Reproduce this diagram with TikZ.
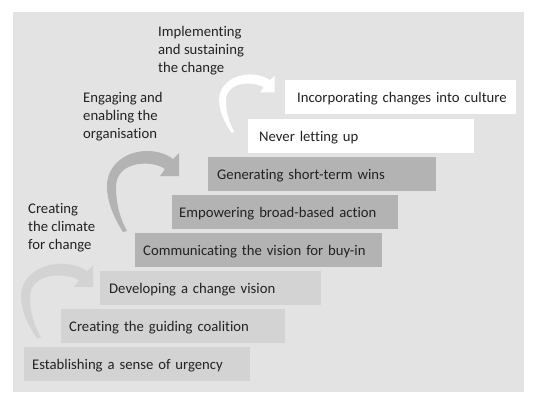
\documentclass[tikz,border=0pt]{standalone}
\usepackage{fontspec}
\setmainfont{Carlito}[Ligatures=NoCommon]
\definecolor{panel}{HTML}{E3E3E3}
\definecolor{lightstep}{HTML}{D3D3D3}
\definecolor{darkstep}{HTML}{B3B3B3}
\definecolor{ink}{HTML}{222222}
\tikzset{stepbox/.style={anchor=north west, minimum height=34pt, inner ysep=0pt, text height=11pt, text depth=0pt, align=left, text=ink},
  phase/.style={anchor=north west, align=left, inner sep=0pt, text=ink}}
\begin{document}
\begin{tikzpicture}[x=1pt, y=-1pt, font={\fontsize{14.7pt}{18pt}\selectfont}, line join=round]
    \useasboundingbox (0,0) rectangle (537,401);
    \fill[panel] (13,12) rectangle (524,392);
    %\draw[gray,dashed] (0,0) grid[step=50] (537,401);
    % curved arrows, one per phase
    \foreach \tx/\ty/\sx/\sy/\c in {91/285/1/.92/lightstep, 177/174/1/1/darkstep, 273/91/.77/.72/white}
    \fill[\c, shift={(\tx,\ty)}, xscale=\sx, yscale=\sy] (-54,58) .. controls (-63,44) and (-70,28) .. (-70,12) .. controls (-70,-10) and (-50,-23) .. (-30,-23) .. controls (-18,-23) and (-9,-19) .. (-4,-15) -- (2,-21) -- (2,2) -- (-17,2) -- (-12,-5) .. controls (-24,-14) and (-61,-14) .. (-61,13) .. controls (-61,32) and (-56,46) .. (-50,57) -- cycle;
    % the eight steps, bottom to top
    \foreach \x/\y/\w/\p/\c/\t [count=\i] in {24/347/226/8/lightstep/Establishing a sense of urgency, 61/309/224/8/lightstep/Creating the guiding coalition, 100/271/221/9/lightstep/Developing a change vision, 135/233/247/8/darkstep/Communicating the vision for buy-in, 172/195/226/7/darkstep/Empowering broad-based action, 208/157/228/9/darkstep/Generating short-term wins, 248/119/226/11/white/Never letting up, 285/80/231/12/white/Incorporating changes into culture}
    {
        \pgfmathsetmacro\tw{\w-2*\p}
        \node[stepbox, fill=\c, inner xsep=\p pt, text width=\tw pt] (s\i) at (\x,\y) {\mbox{\t}};
    }
    \node[phase] (climate) at (28,203) {Creating\\the climate\\for change};
    \node[phase] (enable) at (83,92) {Engaging and\\enabling the\\organisation};
    \node[phase] (sustain) at (158,26) {Implementing\\and sustaining\\the change};
\end{tikzpicture}
\end{document}
